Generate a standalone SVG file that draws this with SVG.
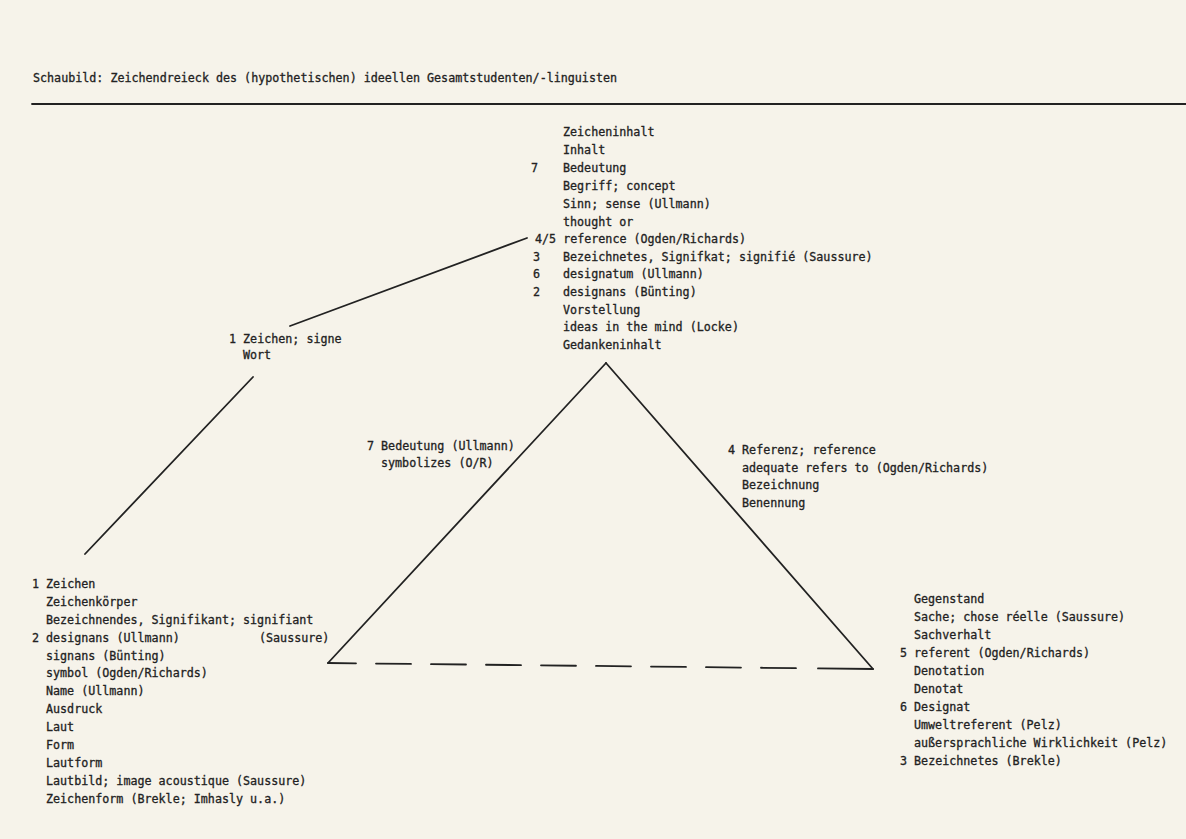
<svg xmlns="http://www.w3.org/2000/svg" width="1186" height="839" viewBox="0 0 1186 839">
  <style>
    text { font-family: "DejaVu Sans Mono", "Liberation Mono", monospace; font-size: 11.7px; fill: #222; stroke: #222; stroke-width: 0.3; }
    .ln { stroke: #222; stroke-width: 1.8; fill: none; stroke-linecap: round; }
  </style>
  <rect x="0" y="0" width="1186" height="839" fill="#f6f3ea"/>

  <g id="title">
    <text x="33" y="82">Schaubild: Zeichendreieck des (hypothetischen) ideellen Gesamtstudenten/-linguisten</text>
    <line class="ln" x1="32" y1="104" x2="1186" y2="104" stroke-width="2.2"/>
  </g>

  <g id="connectors">
    <line class="ln" x1="290" y1="326" x2="527" y2="238"/>
    <line class="ln" x1="253" y1="377" x2="85" y2="554"/>
    <line class="ln" x1="328" y1="663" x2="606" y2="363"/>
    <line class="ln" x1="606" y1="363" x2="873" y2="669"/>
    <line class="ln" x1="328" y1="663" x2="873" y2="669" stroke-linecap="butt" stroke-dasharray="28 20 35 20 35 20 35 20 35 20 35 20 35 20 35 20 35 22 60"/>
  </g>

  <g id="node-top">
    <text x="563" y="136">Zeicheninhalt</text>
    <text x="563" y="154">Inhalt</text>
    <text x="531" y="172">7</text><text x="563" y="172">Bedeutung</text>
    <text x="563" y="190">Begriff; concept</text>
    <text x="563" y="208">Sinn; sense (Ullmann)</text>
    <text x="563" y="225.5">thought or</text>
    <text x="535" y="243">4/5 reference (Ogden/Richards)</text>
    <text x="533" y="260.5">3</text><text x="563" y="260.5">Bezeichnetes, Signifkat; signifié (Saussure)</text>
    <text x="533" y="278">6</text><text x="563" y="278">designatum (Ullmann)</text>
    <text x="533" y="296">2</text><text x="563" y="296">designans (Bünting)</text>
    <text x="563" y="313.5">Vorstellung</text>
    <text x="563" y="331">ideas in the mind (Locke)</text>
    <text x="563" y="348.5">Gedankeninhalt</text>
  </g>

  <g id="node-wort">
    <text x="229" y="343">1 Zeichen; signe</text>
    <text x="243" y="359">Wort</text>
  </g>

  <g id="node-bedeutung">
    <text x="367" y="450">7 Bedeutung (Ullmann)</text>
    <text x="381" y="467">symbolizes (O/R)</text>
  </g>

  <g id="node-referenz">
    <text x="728" y="454">4 Referenz; reference</text>
    <text x="742" y="471.5">adequate refers to (Ogden/Richards)</text>
    <text x="742" y="489">Bezeichnung</text>
    <text x="742" y="506.5">Benennung</text>
  </g>

  <g id="node-zeichen">
    <text x="32" y="588">1 Zeichen</text>
    <text x="46" y="606">Zeichenkörper</text>
    <text x="46" y="624">Bezeichnendes, Signifikant; signifiant</text>
    <text x="32" y="642">2 designans (Ullmann)</text>
    <text x="259" y="642">(Saussure)</text>
    <text x="46" y="660">signans (Bünting)</text>
    <text x="46" y="677">symbol (Ogden/Richards)</text>
    <text x="46" y="695">Name (Ullmann)</text>
    <text x="46" y="713">Ausdruck</text>
    <text x="46" y="731">Laut</text>
    <text x="46" y="749">Form</text>
    <text x="46" y="767">Lautform</text>
    <text x="46" y="785">Lautbild; image acoustique (Saussure)</text>
    <text x="46" y="803">Zeichenform (Brekle; Imhasly u.a.)</text>
  </g>

  <g id="node-gegenstand">
    <text x="914" y="603">Gegenstand</text>
    <text x="914" y="621">Sache; chose réelle (Saussure)</text>
    <text x="914" y="639">Sachverhalt</text>
    <text x="900" y="657">5 referent (Ogden/Richards)</text>
    <text x="914" y="675">Denotation</text>
    <text x="914" y="693">Denotat</text>
    <text x="900" y="711">6 Designat</text>
    <text x="914" y="729">Umweltreferent (Pelz)</text>
    <text x="914" y="747">außersprachliche Wirklichkeit (Pelz)</text>
    <text x="900" y="765">3 Bezeichnetes (Brekle)</text>
  </g>
</svg>
